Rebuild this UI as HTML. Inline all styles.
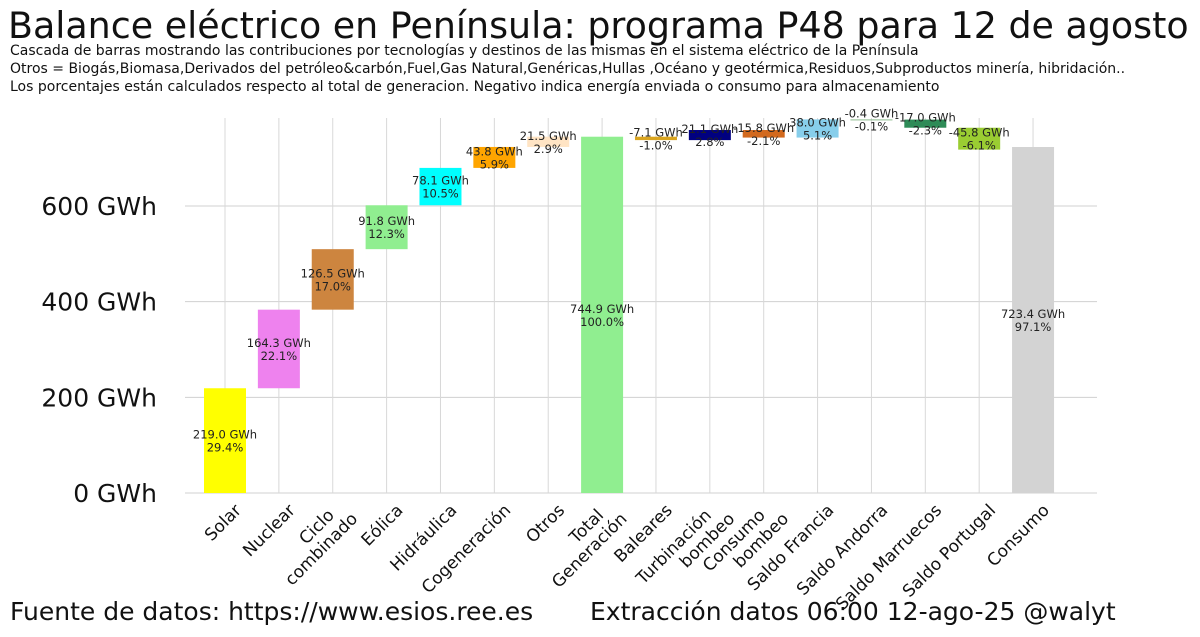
<!DOCTYPE html>
<html><head><meta charset="utf-8"><style>
body{margin:0;background:#fff;}
svg{display:block;font-family:"DejaVu Sans","Liberation Sans",sans-serif;}
</style></head><body>
<svg id="c" width="1200" height="637">
<text x="8" y="38" font-size="36.4" fill="#111">Balance eléctrico en Península: programa P48 para 12 de agosto</text>
<text x="10" y="55" font-size="14" fill="#111">Cascada de barras mostrando las contribuciones por tecnologías y destinos de las mismas en el sistema eléctrico de la Península</text>
<text x="10" y="73" font-size="14" fill="#111">Otros = Biogás,Biomasa,Derivados del petróleo&amp;carbón,Fuel,Gas Natural,Genéricas,Hullas ,Océano y geotérmica,Residuos,Subproductos minería, hibridación..</text>
<text x="10" y="91" font-size="14" fill="#111">Los porcentajes están calculados respecto al total de generacion. Negativo indica energía enviada o consumo para almacenamiento</text>
<g id="grid"></g>
<g id="bars"></g>
<g id="labels"></g>
<g id="xaxis"></g>
<g id="yaxis"></g>
<text x="10" y="620" font-size="25" fill="#111">Fuente de datos: https://www.esios.ree.es</text>
<text x="590" y="620" font-size="25" fill="#111">Extracción datos 06:00 12-ago-25  @walyt</text>
</svg>
<script>
const categories=["Solar","Nuclear","Ciclo\ncombinado","Eólica","Hidráulica","Cogeneración","Otros","Total\nGeneración","Baleares","Turbinación\nbombeo","Consumo\nbombeo","Saldo Francia","Saldo Andorra","Saldo Marruecos","Saldo Portugal","Consumo"];
const values=[219.0,164.3,126.5,91.8,78.1,43.8,21.5,744.9,-7.1,21.1,-15.8,38.0,-0.4,-17.0,-45.8,723.4];
const percents=["29.4%","22.1%","17.0%","12.3%","10.5%","5.9%","2.9%","100.0%","-1.0%","2.8%","-2.1%","5.1%","-0.1%","-2.3%","-6.1%","97.1%"];
const kinds=["d","d","d","d","d","d","d","t","d","d","d","d","d","d","d","t"];
const colors=["#ffff00","#ee82ee","#cd853f","#90ee90","#00ffff","#ffa500","#ffe4c4","#90ee90","#daa520","#000080","#d2691e","#87ceeb","#8fbc8f","#2e8b57","#9acd32","#d3d3d3"];
const yTicks=[0,200,400,600];
const NS="http://www.w3.org/2000/svg";
const x0=225,dx=53.87,bw=42;
const X=i=>x0+i*dx;
const Y=v=>493-v*0.4783;
function mk(tag,parent,attrs){const e=document.createElementNS(NS,tag);for(const k in attrs)e.setAttribute(k,attrs[k]);parent.appendChild(e);return e;}
const grid=document.getElementById('grid'),bars=document.getElementById('bars'),labels=document.getElementById('labels'),xa=document.getElementById('xaxis'),ya=document.getElementById('yaxis');
yTicks.forEach(t=>{
 const l=mk('line',grid,{x1:185,x2:1097,y1:Y(t),y2:Y(t),stroke:'#d0d0d0','stroke-width':1});
 
 
 const tx=mk('text',ya,{x:157,y:Y(t)+9,'text-anchor':'end','font-size':25,fill:'#111'});
 tx.textContent=t+' GWh';
 
 
});
categories.forEach((c,i)=>{
 const l=mk('line',grid,{x1:X(i),x2:X(i),y1:118,y2:493,stroke:'#d8d8d8','stroke-width':1});
 
 
});
let cum=0;
values.forEach((v,i)=>{
 let a,b;
 if(kinds[i]==='t'){a=0;b=v;cum=v;}else{a=cum;b=cum+v;cum=b;}
 const lo=Math.min(a,b),hi=Math.max(a,b);
 const r=mk('rect',bars,{x:X(i)-bw/2,y:Y(hi),width:bw,height:Math.max(Y(lo)-Y(hi),1),fill:colors[i]});
 
 
 const m=Y((lo+hi)/2);
 const t=mk('text',labels,{x:X(i),'text-anchor':'middle','font-size':11.5,fill:'#222'});
 const t1=mk('tspan',t,{x:X(i),y:m-2});t1.textContent=v.toFixed(1)+' GWh';
 const t2=mk('tspan',t,{x:X(i),y:m+11});t2.textContent=percents[i];
 
 
 const lines=categories[i].split('\n');
 const g=mk('g',xa,{transform:`translate(${X(i)+13},${507}) rotate(-45)`});
 
 
 const tx=mk('text',g,{'text-anchor':'end','font-size':17,fill:'#111'});
 lines.forEach((ln,k)=>{const s=mk('tspan',tx,{x:lines.length>1?(k===0?-14:0):0,y:lines.length>1?(k*19-1):6});s.textContent=ln;});
});
</script>
</body></html>
